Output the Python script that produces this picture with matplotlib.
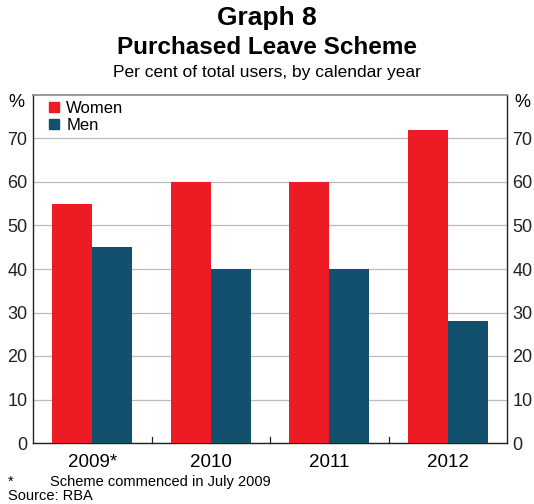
import matplotlib
matplotlib.use("Agg")
import matplotlib.pyplot as plt
import numpy as np
from matplotlib.patches import Patch

plt.rcParams['font.family'] = ['Liberation Sans', 'DejaVu Sans']

years = ["2009*", "2010", "2011", "2012"]
women = [55, 60, 60, 72]
men = [45, 40, 40, 28]
yticks = [0, 10, 20, 30, 40, 50, 60, 70]

red = "#ED1C24"
blue = "#12506E"

fig = plt.figure(figsize=(5.34, 5.04), dpi=100)
ax = fig.add_axes([33/534, 61/504, 474/534, 348/504])

x = np.arange(len(years))
w = 0.338
ax.bar(x - w/2, women, width=w, color=red, zorder=3, label="Women")
ax.bar(x + w/2, men, width=w, color=blue, zorder=3, label="Men")

ax.set_xlim(-0.5, len(years) - 0.5)
ax.set_ylim(0, 80)
ax.set_yticks(yticks)
ax.set_yticklabels([str(v) for v in yticks])
ax.yaxis.grid(True, color="#BBBBBB", linewidth=0.9, zorder=0)
ax.tick_params(axis='y', length=0, labelsize=13, pad=4, left=True, right=True,
               labelleft=True, labelright=True, labelcolor="#222222")

# category boundary ticks on the baseline
ax.set_xticks(x)
ax.set_xticklabels(years, fontsize=13.5)
ax.tick_params(axis='x', length=0, pad=8)
for b in x[:-1] + 0.5:
    ax.plot([b, b], [0, 1.3], color="#222222", linewidth=0.9, zorder=4, clip_on=False)

for s in ['left', 'right', 'bottom']:
    ax.spines[s].set_color("#222222")
    ax.spines[s].set_linewidth(1.0)
ax.spines['top'].set_color("#888888")
ax.spines['top'].set_linewidth(1.2)

fig.text(16/534, 1 - 103/504, "%", ha="center", va="center", fontsize=13)
fig.text(522/534, 1 - 103/504, "%", ha="center", va="center", fontsize=13)

handles = [Patch(color=red, label="Women"), Patch(color=blue, label="Men")]
ax.legend(handles=handles, loc="upper left", bbox_to_anchor=(0.012, 1.012),
          frameon=False, fontsize=12, handlelength=0.6, handleheight=0.6,
          handletextpad=0.45, labelspacing=0.12, borderaxespad=0.2)

fig.text(0.5, 1 - 18/504, "Graph 8", ha="center", va="center", fontsize=19, fontweight="bold")
fig.text(0.5, 1 - 48/504, "Purchased Leave Scheme", ha="center", va="center", fontsize=17.5, fontweight="bold")
fig.text(0.5, 1 - 73/504, "Per cent of total users, by calendar year", ha="center", va="center", fontsize=12.5)

fig.text(8/534, 1 - 482/504, "*", ha="left", va="center", fontsize=10.5)
fig.text(50/534, 1 - 482/504, "Scheme commenced in July 2009", ha="left", va="center", fontsize=10.5)
fig.text(8/534, 1 - 496/504, "Source: RBA", ha="left", va="center", fontsize=10.5)

fig.savefig("out.png", dpi=100)
